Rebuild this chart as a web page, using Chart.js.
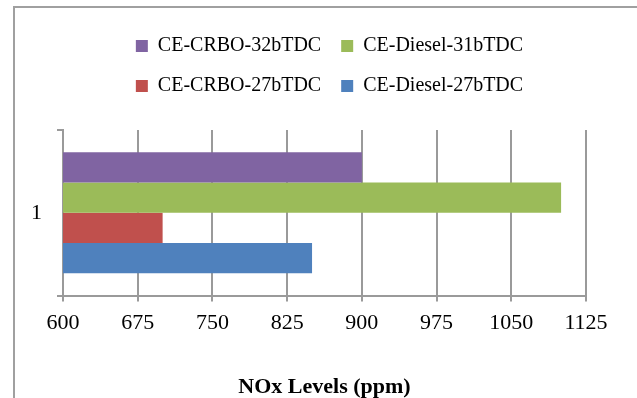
<!DOCTYPE html>
<html>
<head>
<meta charset="utf-8">
<script src="https://cdn.jsdelivr.net/npm/chart.js@4.4.0/dist/chart.umd.min.js"></script>
<style>
  html, body { margin: 0; padding: 0; background: #fff; }
  #frame {
    position: absolute; left: 13px; top: 6px; width: 624px; height: 392px;
    border-left: 2px solid #a0a0a0; border-top: 2px solid #a0a0a0;
  }
  canvas { display: block; }
</style>
</head>
<body>
<div id="frame"><canvas id="myChart" width="622" height="390"></canvas></div>
<script>
"use strict";

let categories = ["1"];
let seriesNames = ["CE-CRBO-32bTDC", "CE-Diesel-31bTDC", "CE-CRBO-27bTDC", "CE-Diesel-27bTDC"];
let crbo32 = [900];
let diesel31 = [1100];
let crbo27 = [700];
let diesel27 = [850];
let seriesColors = ["#8064A2", "#9BBB59", "#C0504D", "#4F81BD"];
let xTicks = [600, 675, 750, 825, 900, 975, 1050, 1125];
let xTitle = "NOx Levels (ppm)";

let gridColor = "#9a9a9a";
let serif = "'Liberation Serif', 'Times New Roman', serif";

let seriesValues = [crbo32, diesel31, crbo27, diesel27];
let datasets = [];
for (let i = 0; i < seriesNames.length; i++) {
  datasets.push({
    label: seriesNames[i],
    data: seriesValues[i],
    backgroundColor: seriesColors[i],
    borderWidth: 0,
    categoryPercentage: 0.73,
    barPercentage: 1,
  });
}

// legend needs extra room under it, and sits a bit right of center
const legendTweak = {
  id: "legendTweak",
  beforeInit(chart) {
    const fit = chart.legend.fit;
    chart.legend.fit = function () {
      fit.call(this);
      this.height += 24;
    };
  },
  afterLayout(chart) {
    chart.legend.left += 21;
    chart.legend.right += 21;
  },
};

const config = {
  type: "bar",
  data: { labels: categories, datasets: datasets },
  options: {
    indexAxis: "y",
    responsive: false,
    animation: false,
    layout: { padding: { top: 8, left: 16, right: 51, bottom: 0 } },
    plugins: {
      legend: {
        position: "top",
        labels: {
          boxWidth: 12,
          boxHeight: 12,
          padding: 20,
          color: "#000",
          font: { family: serif, size: 20 },
        },
      },
      tooltip: { enabled: false },
    },
    scales: {
      x: {
        min: xTicks[0],
        max: xTicks[xTicks.length - 1],
        afterBuildTicks(scale) {
          scale.ticks = xTicks.map((v) => ({ value: v }));
        },
        grid: { color: gridColor, lineWidth: 2, tickLength: 6 },
        border: { color: gridColor, width: 2 },
        ticks: {
          color: "#000",
          padding: 8,
          font: { family: serif, size: 22 },
          callback: (value) => String(value),
        },
        title: {
          display: true,
          text: xTitle,
          color: "#000",
          padding: { top: 32, bottom: 0 },
          font: { family: serif, size: 22, weight: "bold", lineHeight: 1 },
        },
      },
      y: {
        afterFit(scale) {
          scale.width = 32;
        },
        grid: { color: gridColor, lineWidth: 2, tickLength: 6, drawOnChartArea: false, offset: true },
        border: { color: gridColor, width: 2 },
        ticks: { color: "#000", padding: 15, font: { family: serif, size: 22 } },
      },
    },
  },
  plugins: [legendTweak],
};

const canvasChart = document.getElementById("myChart");
new Chart(canvasChart, config);
</script>
</body>
</html>
